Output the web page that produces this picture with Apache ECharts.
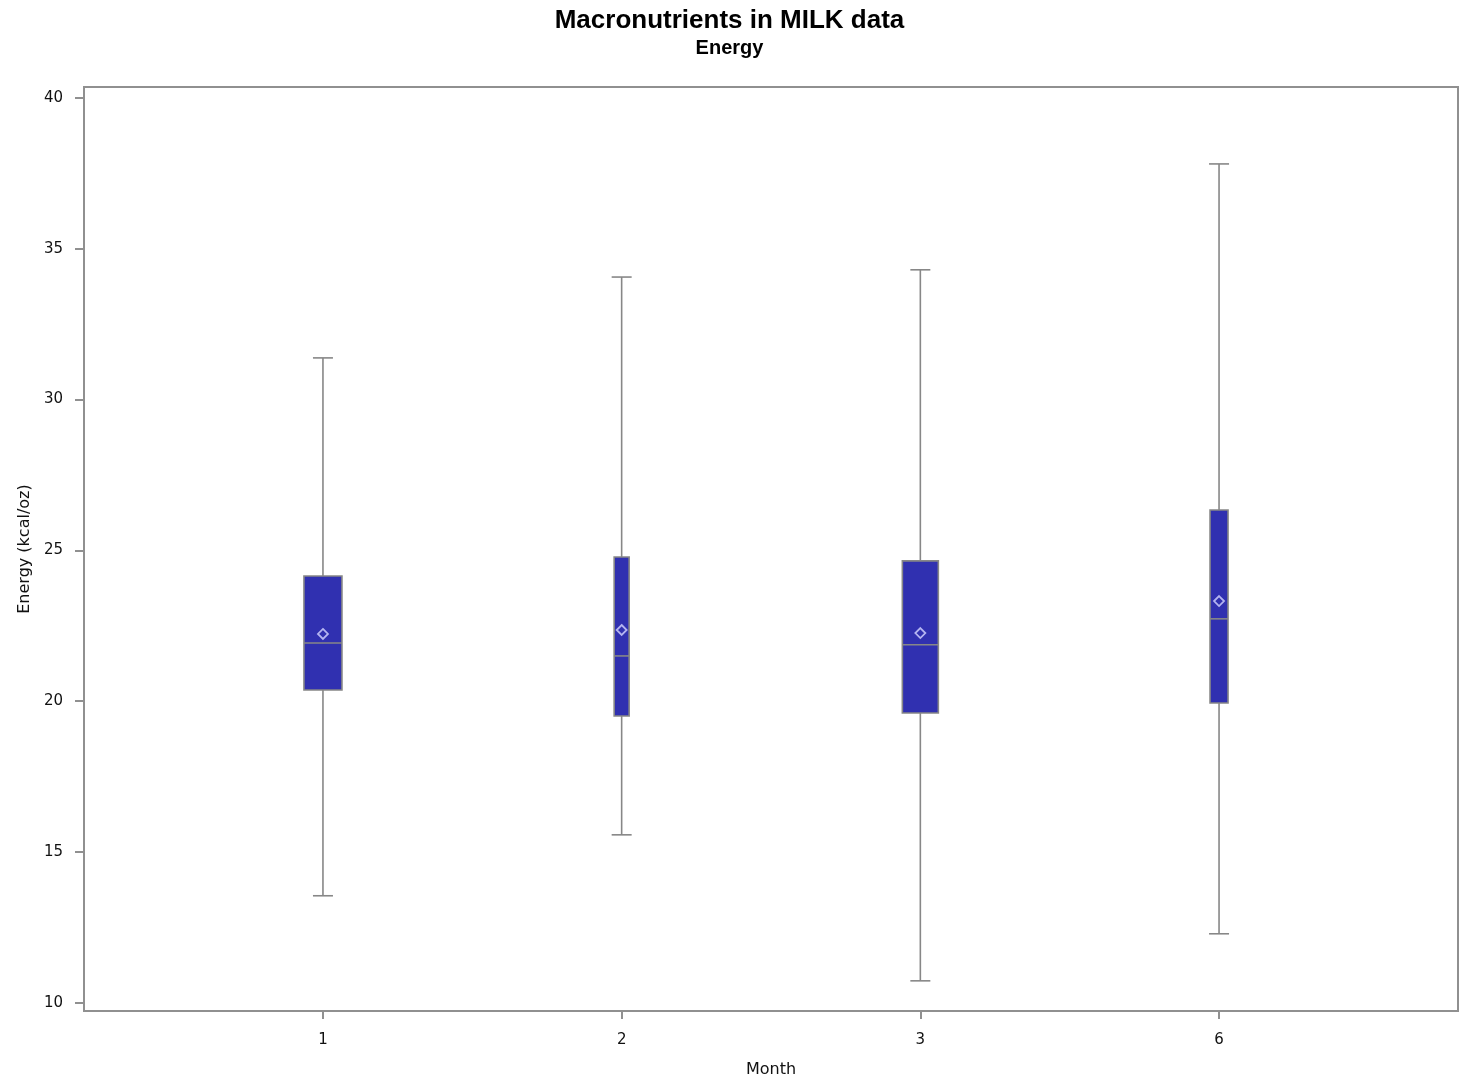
<!DOCTYPE html>
<html>
<head>
<meta charset="utf-8">
<script src="https://cdn.jsdelivr.net/npm/echarts@6/dist/echarts.min.js"></script>
<style>
  html, body { margin: 0; padding: 0; background: #fff; }
  #chart { width: 1459px; height: 1080px; }
</style>
</head>
<body>
<div id="chart"></div>
<script>
// months on the x axis (drawn at positions 1..4)
var months = ['1', '2', '3', '6']
// box statistics
var whiskerLow = [13.55, 15.57, 10.73, 12.29]
var q1 = [20.37, 19.51, 19.61, 19.94]
var median = [21.93, 21.50, 21.87, 22.73]
var q3 = [24.15, 24.78, 24.65, 26.34]
var whiskerHigh = [31.38, 34.06, 34.30, 37.81]
var means = [22.23, 22.36, 22.26, 23.32]
var yTicks = [10, 15, 20, 25, 30, 35, 40]

// box widths in pixels (style only)
var boxWidths = [38, 15, 36, 18]

var gray = '#878787'
var seriesData = months.map(function (m, i) {
  return [i + 1, whiskerLow[i], q1[i], median[i], q3[i], whiskerHigh[i], means[i], i]
})

function renderBox (params, api) {
  var x = api.value(0)
  var pLow = api.coord([x, api.value(1)])
  var pQ1 = api.coord([x, api.value(2)])
  var pMed = api.coord([x, api.value(3)])
  var pQ3 = api.coord([x, api.value(4)])
  var pHigh = api.coord([x, api.value(5)])
  var pMean = api.coord([x, api.value(6)])
  var w = boxWidths[api.value(7)]
  var cx = pQ1[0]
  var cap = 10
  var d = 5
  var lineStyle = { stroke: gray, lineWidth: 1.6 }
  return {
    type: 'group',
    children: [
      { type: 'line', shape: { x1: cx, y1: pLow[1], x2: cx, y2: pQ1[1] }, style: lineStyle },
      { type: 'line', shape: { x1: cx, y1: pQ3[1], x2: cx, y2: pHigh[1] }, style: lineStyle },
      { type: 'line', shape: { x1: cx - cap, y1: pLow[1], x2: cx + cap, y2: pLow[1] }, style: lineStyle },
      { type: 'line', shape: { x1: cx - cap, y1: pHigh[1], x2: cx + cap, y2: pHigh[1] }, style: lineStyle },
      {
        type: 'rect',
        shape: { x: cx - w / 2, y: pQ3[1], width: w, height: pQ1[1] - pQ3[1] },
        style: { fill: '#3030b0', stroke: gray, lineWidth: 1.6 }
      },
      { type: 'line', shape: { x1: cx - w / 2, y1: pMed[1], x2: cx + w / 2, y2: pMed[1] }, style: lineStyle },
      {
        type: 'polygon',
        shape: { points: [[pMean[0], pMean[1] - d], [pMean[0] + d, pMean[1]], [pMean[0], pMean[1] + d], [pMean[0] - d, pMean[1]]] },
        style: { fill: 'none', stroke: '#b4b4f0', lineWidth: 1.8 }
      }
    ]
  }
}

var option = {
  animation: false,
  title: {
    text: 'Macronutrients in MILK data',
    subtext: 'Energy',
    left: 'center',
    top: 3,
    itemGap: 4,
    textStyle: { fontFamily: 'Liberation Sans', fontSize: 26, fontWeight: 'bold', color: '#000' },
    subtextStyle: { fontFamily: 'Liberation Sans', fontSize: 20, fontWeight: 'bold', color: '#000' }
  },
  grid: {
    left: 84,
    right: 1,
    top: 87,
    bottom: 69,
    outerBoundsMode: 'none',
    containLabel: false,
    show: true,
    borderColor: '#909090',
    borderWidth: 2,
    backgroundColor: '#fff'
  },
  xAxis: {
    type: 'value',
    min: 0.2,
    max: 4.8,
    name: 'Month',
    nameLocation: 'middle',
    nameGap: 51,
    nameTextStyle: { fontFamily: 'DejaVu Sans', fontSize: 16, color: '#111' },
    axisLine: { show: false },
    splitLine: { show: false },
    axisTick: {
      show: true,
      length: 8,
      customValues: [1, 2, 3, 4],
      lineStyle: { color: '#909090', width: 2 }
    },
    axisLabel: {
      customValues: [1, 2, 3, 4],
      margin: 22,
      fontFamily: 'DejaVu Sans',
      fontSize: 15,
      color: '#111',
      formatter: function (v) { return months[Math.round(v) - 1] }
    }
  },
  yAxis: {
    type: 'value',
    min: 9.73,
    max: 40.36,
    name: 'Energy (kcal/oz)',
    nameLocation: 'middle',
    nameGap: 48,
    nameTextStyle: { fontFamily: 'DejaVu Sans', fontSize: 16, color: '#111' },
    axisLine: { show: false },
    splitLine: { show: false },
    axisTick: {
      show: true,
      length: 9,
      customValues: yTicks,
      lineStyle: { color: '#909090', width: 2 }
    },
    axisLabel: {
      customValues: yTicks,
      margin: 21,
      fontFamily: 'DejaVu Sans',
      fontSize: 15,
      color: '#111'
    }
  },
  series: [
    {
      type: 'custom',
      renderItem: renderBox,
      encode: { x: 0, y: [1, 2, 3, 4, 5] },
      data: seriesData
    }
  ]
}

var myChart = echarts.init(document.getElementById('chart'))
myChart.setOption(option)
</script>
</body>
</html>
